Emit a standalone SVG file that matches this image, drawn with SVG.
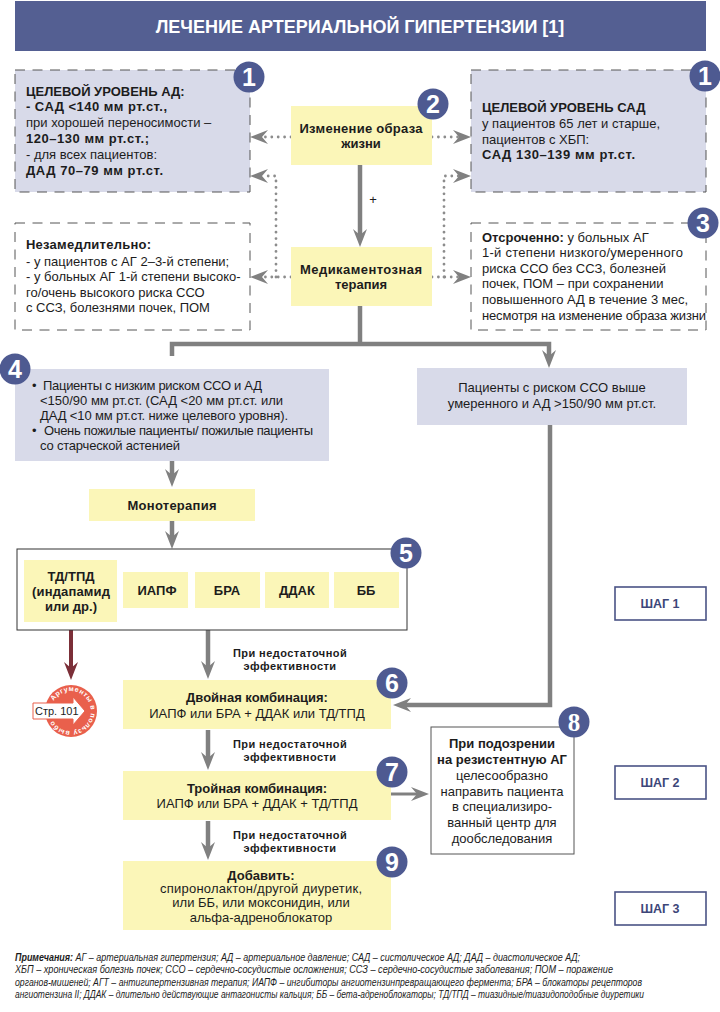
<svg xmlns="http://www.w3.org/2000/svg" width="720" height="1012" viewBox="0 0 720 1012">
<style>
text{font-family:"Liberation Sans",Arial,sans-serif;font-size:13px;fill:#1c1c1c}
.b{font-weight:700}
.m{text-anchor:middle}
.y{fill:#fbf6b8}
.l{fill:#d8dae9}
.d{stroke:#555;stroke-width:1;stroke-dasharray:10 7.5}
.badge circle{fill:#4e5a91}
.badge text{font-size:25px;font-weight:700;fill:#fff;text-anchor:middle}
.main{fill:none;stroke:#808080;stroke-width:4.5}
.thin{fill:none;stroke:#808080;stroke-width:3}
.dot{fill:none;stroke:#8c8c8c;stroke-width:2.8;stroke-linecap:round;stroke-dasharray:0 6.4}
.step rect{fill:#fff;stroke:#4a5385;stroke-width:1.6}
.step text{font-weight:700;font-size:12.5px;fill:#3d4679;text-anchor:middle}
.eff{font-weight:700;font-size:11px;text-anchor:middle;letter-spacing:.45px}
.note{font-style:italic;font-size:11px}
</style>
<defs>
<marker id="ah" markerUnits="userSpaceOnUse" markerWidth="20" markerHeight="20" refX="6" refY="10" orient="auto"><path d="M18 10L0 3L6 10L0 17Z" fill="#808080"/></marker>
<marker id="ar" markerUnits="userSpaceOnUse" markerWidth="20" markerHeight="20" refX="6" refY="10" orient="auto"><path d="M18 10L0 3L6 10L0 17Z" fill="#7b2f38"/></marker>
<path id="ring" d="M53.6 701A20 20 0 1 1 54 722"/>
</defs>
<g id="title"><rect x="15" y="1" width="691" height="50" fill="#545f92"/><text x="360" y="33" class="b m" style="font-size:18px;fill:#fff">ЛЕЧЕНИЕ АРТЕРИАЛЬНОЙ ГИПЕРТЕНЗИИ [1]</text></g>

<g id="connectors">
<path class="dot" d="M291 137H262" marker-end="url(#ah)"/>
<path class="dot" d="M291 277H262" marker-end="url(#ah)"/>
<path class="dot" d="M276 277V176H262" marker-end="url(#ah)"/>
<path class="dot" d="M432 137H459" marker-end="url(#ah)"/>
<path class="dot" d="M432 277H459" marker-end="url(#ah)"/>
<path class="dot" d="M444 277V176H459" marker-end="url(#ah)"/>
<path class="main" d="M360 165V235" marker-end="url(#ah)"/>
<path class="main" d="M360 306V344"/>
<path class="main" d="M172 356V344H549V356" marker-end="url(#ah)"/>
<path class="main" d="M172 461V475" marker-end="url(#ah)"/>
<path class="main" d="M172 521V537" marker-end="url(#ah)"/>
<path class="main" d="M550 425V705H405" marker-end="url(#ah)"/>
<path class="main" d="M208 630V667" marker-end="url(#ah)"/>
<path class="main" d="M208 730V758" marker-end="url(#ah)"/>
<path class="main" d="M208 821V848" marker-end="url(#ah)"/>
<path class="thin" d="M391 794H417" marker-end="url(#ah)"/>
<path d="M71 622V668" fill="none" stroke="#7b2f38" stroke-width="4" marker-end="url(#ar)"/>
</g>

<g id="target-ad"><rect class="l d" x="15" y="70" width="235" height="122"/>
<text x="26" y="96" class="b">ЦЕЛЕВОЙ УРОВЕНЬ АД:</text>
<text x="26" y="111" class="b" textLength="141">- САД &lt;140 мм рт.ст.,</text>
<text x="26" y="127">при хорошей переносимости –</text>
<text x="26" y="143" class="b" textLength="123">120–130 мм рт.ст.;</text>
<text x="26" y="159">- для всех пациентов:</text>
<text x="26" y="175" class="b" textLength="137">ДАД 70–79 мм рт.ст.</text></g>

<g id="target-sad"><rect class="l d" x="471" y="70" width="235" height="122"/>
<text x="482" y="112" class="b">ЦЕЛЕВОЙ УРОВЕНЬ САД</text>
<text x="482" y="128">у пациентов 65 лет и старше,</text>
<text x="482" y="144">пациентов с ХБП:</text>
<text x="482" y="159" class="b" textLength="153">САД 130–139 мм рт.ст.</text></g>

<g id="lifestyle"><rect class="y" x="291" y="106" width="141" height="59"/>
<text x="361" y="133" class="b m" textLength="123">Изменение образа</text><text x="361" y="148" class="b m">жизни</text></g>

<g id="drug"><rect class="y" x="291" y="247" width="141" height="59"/>
<text x="361" y="274" class="b m" textLength="122">Медикаментозная</text><text x="361" y="289" class="b m">терапия</text></g>
<text id="plus" x="373" y="204" class="m">+</text>

<g id="immediate"><rect fill="#fff" class="d" x="15" y="223" width="235" height="107"/>
<text x="26" y="249" class="b" textLength="125">Незамедлительно:</text>
<text x="26" y="266">- у пациентов с АГ 2–3-й степени;</text>
<text x="26" y="281">- у больных АГ 1-й степени высоко-</text>
<text x="26" y="297">го/очень высокого риска ССО</text>
<text x="26" y="312">с ССЗ, болезнями почек, ПОМ</text></g>

<g id="delayed"><rect fill="#fff" class="d" x="471" y="223" width="235" height="107"/>
<text x="482" y="242"><tspan class="b">Отсроченно:</tspan> у больных АГ</text>
<text x="482" y="257" textLength="201">1-й степени низкого/умеренного</text>
<text x="482" y="273">риска ССО без ССЗ, болезней</text>
<text x="482" y="288">почек, ПОМ – при сохранении</text>
<text x="482" y="304" textLength="206">повышенного АД в течение 3 мес,</text>
<text x="482" y="320" textLength="224">несмотря на изменение образа жизни</text></g>

<g id="low-risk"><rect class="l" x="15" y="369" width="314" height="92"/>
<text x="32" y="390">•</text><text x="43" y="390" textLength="219">Пациенты с низким риском ССО и АД</text>
<text x="40" y="405" textLength="243">&lt;150/90 мм рт.ст. (САД &lt;20 мм рт.ст. или</text>
<text x="40" y="420" textLength="248">ДАД &lt;10 мм рт.ст. ниже целевого уровня).</text>
<text x="32" y="435">•</text><text x="44" y="435" textLength="269">Очень пожилые пациенты/ пожилые пациенты</text>
<text x="40" y="450" textLength="140">со старческой астенией</text></g>

<g id="high-risk"><rect class="l" x="417" y="368" width="270" height="57"/>
<text x="552" y="392" class="m">Пациенты с риском ССО выше</text>
<text x="552" y="408" class="m">умеренного и АД &gt;150/90 мм рт.ст.</text></g>

<g id="mono"><rect class="y" x="89" y="489" width="166" height="32"/><text x="172" y="510" class="b m" textLength="89">Монотерапия</text></g>

<g id="mono-options"><rect x="17" y="549" width="390" height="81" fill="#fff" stroke="#333" stroke-width="1"/>
<rect class="y" x="24" y="560" width="93" height="62"/>
<text x="71" y="581" class="b m">ТД/ТПД</text><text x="71" y="596" class="b m" textLength="78">(индапамид</text><text x="71" y="611" class="b m">или др.)</text>
<rect class="y" x="123" y="572" width="65" height="36"/><text x="157" y="595" class="b m">ИАПФ</text>
<rect class="y" x="195" y="572" width="65" height="36"/><text x="227" y="595" class="b m">БРА</text>
<rect class="y" x="265" y="572" width="64" height="36"/><text x="297" y="595" class="b m">ДДАК</text>
<rect class="y" x="334" y="572" width="65" height="36"/><text x="366" y="595" class="b m">ББ</text></g>

<g id="stamp"><circle cx="71" cy="711" r="26" fill="#e9604c"/>
<text style="font-size:7px;font-weight:700;fill:#fff;letter-spacing:.55px"><textPath href="#ring">Аргументы в пользу выбора</textPath></text>
<path d="M33 703H73V697L85 711L73 725V719H33Z" fill="#fff" stroke="#e9604c" stroke-width="1"/>
<text x="35" y="715" style="font-size:11px">Стр. 101</text></g>

<g id="dual"><rect class="y" x="123" y="680" width="268" height="49"/>
<text x="257" y="702" class="b m">Двойная комбинация:</text><text x="257" y="718" class="m">ИАПФ или БРА + ДДАК или ТД/ТПД</text></g>
<g id="triple"><rect class="y" x="123" y="771" width="268" height="49"/>
<text x="257" y="793" class="b m">Тройная комбинация:</text><text x="257" y="808" class="m">ИАПФ или БРА + ДДАК + ТД/ТПД</text></g>
<g id="add"><rect class="y" x="123" y="861" width="268" height="69"/>
<text x="261" y="880" class="b m">Добавить:</text><text x="261" y="893" class="m" textLength="202">спиронолактон/другой диуретик,</text><text x="261" y="907" class="m">или ББ, или моксонидин, или</text><text x="261" y="922" class="m">альфа-адреноблокатор</text></g>

<g id="eff-labels">
<text x="290" y="657" class="eff">При недостаточной</text><text x="290" y="670" class="eff">эффективности</text>
<text x="290" y="748" class="eff">При недостаточной</text><text x="290" y="761" class="eff">эффективности</text>
<text x="290" y="839" class="eff">При недостаточной</text><text x="290" y="852" class="eff">эффективности</text></g>

<g id="resistant"><rect x="431" y="727" width="143" height="127" fill="#fff" stroke="#555" stroke-width="1"/>
<text x="502" y="748" class="b m">При подозрении</text><text x="502" y="764" class="b m">на резистентную АГ</text>
<text x="502" y="780" class="m">целесообразно</text><text x="502" y="796" class="m">направить пациента</text><text x="502" y="811" class="m">в специализиро-</text><text x="502" y="827" class="m">ванный центр для</text><text x="502" y="843" class="m">дообследования</text></g>

<g id="step1" class="step"><rect x="615" y="587" width="91" height="33"/><text x="660" y="608">ШАГ 1</text></g>
<g id="step2" class="step"><rect x="615" y="766" width="91" height="33"/><text x="660" y="787">ШАГ 2</text></g>
<g id="step3" class="step"><rect x="615" y="892" width="91" height="33"/><text x="660" y="913">ШАГ 3</text></g>

<g id="badges">
<g class="badge"><circle cx="249" cy="77" r="15.5"/><text x="249" y="86">1</text></g>
<g class="badge"><circle cx="705" cy="76" r="15.5"/><text x="705" y="85">1</text></g>
<g class="badge"><circle cx="433" cy="104" r="15.5"/><text x="433" y="113">2</text></g>
<g class="badge"><circle cx="703" cy="223" r="15.5"/><text x="703" y="232">3</text></g>
<g class="badge"><circle cx="15" cy="369" r="15.5"/><text x="15" y="378">4</text></g>
<g class="badge"><circle cx="406" cy="553" r="15.5"/><text x="406" y="562">5</text></g>
<g class="badge"><circle cx="392" cy="683" r="15.5"/><text x="392" y="692">6</text></g>
<g class="badge"><circle cx="392" cy="772" r="15.5"/><text x="392" y="781">7</text></g>
<g class="badge"><circle cx="574" cy="722" r="15.5"/><text x="574" y="731" style="font-family:'Liberation Serif',serif">8</text></g>
<g class="badge"><circle cx="392" cy="862" r="15.5"/><text x="392" y="871">9</text></g>
</g>

<g id="notes">
<text x="15" y="961" class="note" textLength="565" lengthAdjust="spacingAndGlyphs"><tspan class="b">Примечания:</tspan> АГ – артериальная гипертензия; АД – артериальное давление; САД – систолическое АД; ДАД – диастолическое АД;</text>
<text x="15" y="973" class="note" textLength="598" lengthAdjust="spacingAndGlyphs">ХБП – хроническая болезнь почек; ССО – сердечно-сосудистые осложнения; ССЗ – сердечно-сосудистые заболевания; ПОМ – поражение</text>
<text x="15" y="986" class="note" textLength="627" lengthAdjust="spacingAndGlyphs">органов-мишеней; АГТ – антигипертензивная терапия; ИАПФ – ингибиторы ангиотензинпревращающего фермента; БРА – блокаторы рецепторов</text>
<text x="15" y="998" class="note" textLength="629" lengthAdjust="spacingAndGlyphs">ангиотензина II; ДДАК – длительно действующие антагонисты кальция; ББ – бета-адреноблокаторы; ТД/ТПД – тиазидные/тиазидоподобные диуретики</text>
</g>
</svg>
